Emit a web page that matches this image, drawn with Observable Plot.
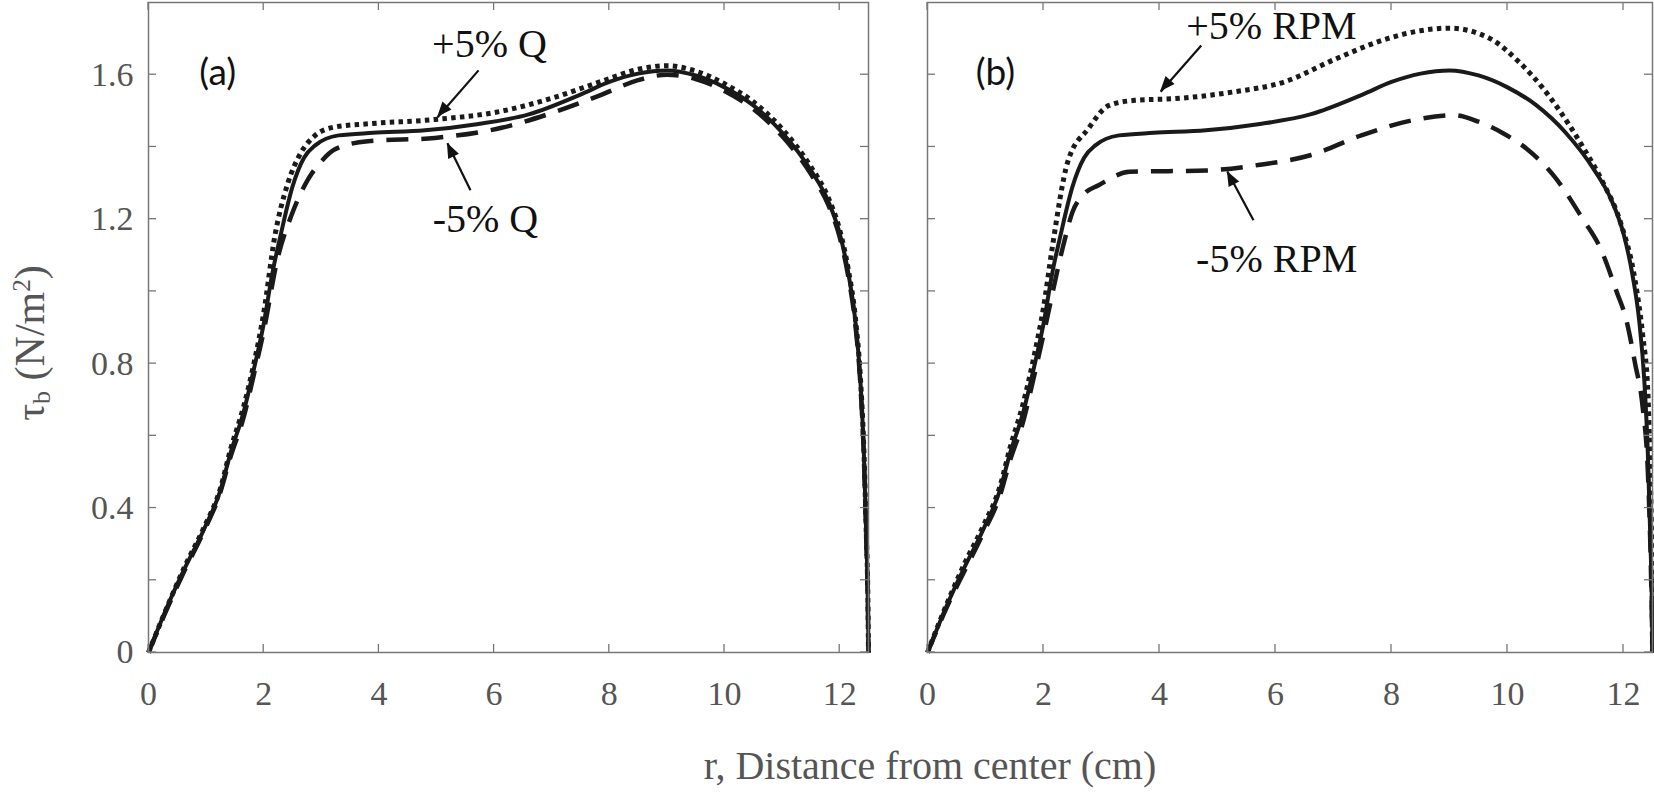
<!DOCTYPE html>
<html>
<head>
<meta charset="utf-8">
<script src="https://cdn.jsdelivr.net/npm/d3@7"></script>
<script src="https://cdn.jsdelivr.net/npm/@observablehq/plot@0.6"></script>
<style>
  body { margin: 0; background: #fff; }
  #wrap { position: relative; width: 1654px; height: 795px; overflow: hidden; font-family: "Liberation Serif", serif; }
  #wrap svg { position: absolute; top: 0; }
  .ylab { position: absolute; left: 32px; top: 343px; transform: translate(-50%, -50%) rotate(-90deg); font-size: 42px; color: #555; white-space: nowrap; line-height: 42px; }
  .xlab { position: absolute; left: 930px; top: 746px; transform: translateX(-50%); font-size: 40px; line-height: 40px; color: #555; white-space: nowrap; }
</style>
</head>
<body>
<div id="wrap">
  <div class="ylab">τ<sub style="font-size:0.62em;vertical-align:-0.25em">b</sub> (N/m<sup style="font-size:0.6em;vertical-align:0.55em">2</sup>)</div>
  <div class="xlab">r, Distance from center (cm)</div>
</div>
<script>
// ---- Data ----
const xTickValues = [0, 2, 4, 6, 8, 10, 12];
const yTickValues = [0, 0.2, 0.4, 0.6, 0.8, 1.0, 1.2, 1.4, 1.6];
const yLabelValues = [0, 0.4, 0.8, 1.2, 1.6];

// Baseline (solid) curve, same in both panels
const baseR   = [0,0.36,0.62,0.96,1.25,1.42,1.65,1.83,2.0,2.15,2.3,2.5,2.7,2.9,3.3,3.9,4.8,5.7,6.6,7.5,8.0,8.5,9.0,9.5,10.0,10.5,11.0,11.5,11.8,12.0,12.15,12.27,12.36,12.42,12.46,12.49,12.5];
const baseTau = [0,0.14,0.23,0.34,0.45,0.55,0.665,0.785,0.91,1.05,1.16,1.29,1.37,1.405,1.432,1.439,1.446,1.463,1.49,1.545,1.58,1.603,1.612,1.598,1.565,1.515,1.44,1.335,1.25,1.16,1.05,0.92,0.75,0.55,0.33,0.13,0];

// Panel (a): +5% Q (dotted)
const qPlusR   = [0,0.36,0.62,0.96,1.25,1.42,1.65,1.83,2.0,2.19,2.42,2.65,2.88,3.23,3.81,4.97,6.13,7.0,7.87,8.5,9.0,9.5,10.0,10.5,11.0,11.5,11.8,12.0,12.15,12.27,12.36,12.42,12.46,12.49,12.5];
const qPlusTau = [0,0.14,0.235,0.345,0.455,0.56,0.68,0.80,0.94,1.15,1.30,1.385,1.43,1.455,1.464,1.476,1.499,1.535,1.582,1.615,1.625,1.61,1.575,1.525,1.45,1.345,1.26,1.17,1.06,0.93,0.76,0.56,0.34,0.14,0];

// Panel (a): -5% Q (dashed)
const qMinusR   = [0,0.36,0.62,0.96,1.25,1.42,1.65,1.83,2.0,2.24,2.48,2.77,3.0,3.23,3.81,4.97,6.13,7.0,7.87,8.5,9.0,9.5,10.0,10.5,11.0,11.5,11.8,12.0,12.15,12.27,12.36,12.42,12.46,12.49,12.5];
const qMinusTau = [0,0.135,0.225,0.335,0.445,0.54,0.65,0.77,0.89,1.09,1.21,1.31,1.36,1.393,1.416,1.425,1.453,1.494,1.545,1.585,1.60,1.588,1.555,1.505,1.43,1.325,1.24,1.15,1.04,0.91,0.74,0.54,0.32,0.12,0];

// Panel (b): +5% RPM (dotted)
const rpmPlusR   = [0,0.36,0.62,0.96,1.25,1.42,1.65,1.83,2.0,2.15,2.42,2.77,3.13,3.57,4.28,5.26,6.15,7.04,7.93,8.5,9.0,9.7,10.2,10.6,10.9,11.3,11.65,11.95,12.2,12.33,12.42,12.46,12.49,12.5];
const rpmPlusTau = [0,0.145,0.24,0.35,0.46,0.565,0.69,0.815,0.955,1.12,1.36,1.45,1.515,1.529,1.534,1.552,1.58,1.644,1.70,1.722,1.729,1.70,1.635,1.565,1.50,1.40,1.30,1.19,1.03,0.88,0.72,0.5,0.22,0];

// Panel (b): -5% RPM (dashed)
const rpmMinusR   = [0,0.36,0.62,0.96,1.25,1.42,1.65,1.83,2.0,2.33,2.5,2.7,2.95,3.48,4.82,5.7,6.6,7.48,8.37,9.08,9.5,9.9,10.33,10.8,11.3,11.6,11.88,12.05,12.2,12.33,12.42,12.47,12.5];
const rpmMinusTau = [0,0.135,0.22,0.33,0.435,0.53,0.64,0.76,0.88,1.12,1.22,1.27,1.294,1.331,1.335,1.35,1.377,1.432,1.474,1.488,1.47,1.44,1.395,1.32,1.20,1.12,1.0,0.92,0.80,0.68,0.5,0.25,0];

// Annotations (data coordinates)
const panelLabels = [{panel: "a", x: 1.2, y: 1.605, text: "(a)"}, {panel: "b", x: 1.17, y: 1.605, text: "(b)"}];
const noteTexts = [
  {panel: "a", x: 5.92, y: 1.685, text: "+5% Q"},
  {panel: "a", x: 5.85, y: 1.20, text: "-5% Q"},
  {panel: "b", x: 5.93, y: 1.735, text: "+5% RPM"},
  {panel: "b", x: 6.02, y: 1.09, text: "-5% RPM"}
];
const noteArrows = [
  {panel: "a", x1: 5.73, y1: 1.612, x2: 5.02, y2: 1.482},
  {panel: "a", x1: 5.59, y1: 1.28, x2: 5.19, y2: 1.41},
  {panel: "b", x1: 4.72, y1: 1.681, x2: 4.02, y2: 1.553},
  {panel: "b", x1: 5.62, y1: 1.197, x2: 5.17, y2: 1.332}
];

// ---- Build ----
const rows = (r, t) => r.map((v, i) => ({r: v, tau: t[i]}));
const TICK = 8;

const inwardTicks = (index, scales, values, dims) => {
  const {width, height, marginLeft, marginRight, marginTop, marginBottom} = dims;
  const x0 = marginLeft, x1 = width - marginRight, y0 = marginTop, y1 = height - marginBottom;
  const g = d3.create("svg:g").attr("stroke", "#777").attr("stroke-width", 1.3);
  for (const v of xTickValues) {
    const px = scales.x(v);
    g.append("line").attr("x1", px).attr("x2", px).attr("y1", y1).attr("y2", y1 - TICK);
    g.append("line").attr("x1", px).attr("x2", px).attr("y1", y0).attr("y2", y0 + TICK);
  }
  for (const v of yTickValues) {
    const py = scales.y(v);
    g.append("line").attr("y1", py).attr("y2", py).attr("x1", x0).attr("x2", x0 + TICK);
    g.append("line").attr("y1", py).attr("y2", py).attr("x1", x1).attr("x2", x1 - TICK);
  }
  return g.node();
};

// filled arrowheads placed with the plot's scales
const arrowHeads = (arrows) => (index, scales) => {
  const g = d3.create("svg:g").attr("fill", "#111");
  const L = 15, W = 6;
  for (const a of arrows) {
    const sx = scales.x(a.x1), sy = scales.y(a.y1), ex = scales.x(a.x2), ey = scales.y(a.y2);
    const dx = ex - sx, dy = ey - sy, len = Math.hypot(dx, dy), ux = dx / len, uy = dy / len;
    const bx = ex - ux * L, by = ey - uy * L;
    g.append("path").attr("d", `M${ex},${ey}L${bx - uy * W},${by + ux * W}L${bx + uy * W},${by - ux * W}Z`);
  }
  return g.node();
};

function panel({panelId, solid, dotted, dashed, showY, width, marginLeft, left}) {
  const lineStyle = {x: "r", y: "tau", stroke: "#1a1a1a", curve: "monotone-x", strokeLinecap: "butt", strokeLinejoin: "round"};
  const arrows = noteArrows.filter(d => d.panel === panelId);
  const svg = Plot.plot({
    width, height: 712,
    marginLeft, marginRight: 2, marginTop: 2, marginBottom: 60,
    style: {color: "#555", fontFamily: "Liberation Serif", fontSize: "34px", background: "transparent", overflow: "visible"},
    x: {domain: [0, 12.5]},
    y: showY ? {domain: [0, 1.8]} : {domain: [0, 1.8], axis: null},
    marks: [
      Plot.axisX({ticks: xTickValues, tickSize: 0, tickPadding: 28, label: null, fontSize: 34, fontFamily: "Liberation Serif", tickFormat: d => String(d)}),
      ...(showY ? [Plot.axisY({ticks: yLabelValues, tickSize: 0, tickPadding: 15, label: null, fontSize: 34, fontFamily: "Liberation Serif", tickFormat: d => String(d)})] : []),
      Plot.line(solid, {...lineStyle, strokeWidth: 4}),
      Plot.line(dashed, {...lineStyle, strokeWidth: 4.5, strokeDasharray: "22,13"}),
      Plot.line(dotted, {...lineStyle, strokeWidth: 5, strokeDasharray: "4.5,4.3"}),
      Plot.frame({stroke: "#777", strokeWidth: 1.5}),
      inwardTicks,
      Plot.text(panelLabels.filter(d => d.panel === panelId), {x: "x", y: "y", text: "text", fontFamily: "Lato", fontSize: 37, fill: "#111"}),
      Plot.text(noteTexts.filter(d => d.panel === panelId), {x: "x", y: "y", text: "text", fontFamily: "Liberation Serif", fontSize: 40, fill: "#111"}),
      Plot.link(arrows, {x1: "x1", y1: "y1", x2: "x2", y2: "y2", stroke: "#111", strokeWidth: 2.2}),
      arrowHeads(arrows)
    ]
  });
  svg.style.left = left + "px";
  svg.querySelectorAll('g[aria-label$="tick label"] text').forEach(t => { t.style.fontFamily = '"Liberation Serif", serif'; });
  return svg;
}

const wrap = document.getElementById("wrap");
wrap.appendChild(panel({
  panelId: "a",
  solid: rows(baseR, baseTau), dotted: rows(qPlusR, qPlusTau), dashed: rows(qMinusR, qMinusTau),
  showY: true, width: 870, marginLeft: 148, left: 0
}));
wrap.appendChild(panel({
  panelId: "b",
  solid: rows(baseR, baseTau), dotted: rows(rpmPlusR, rpmPlusTau), dashed: rows(rpmMinusR, rpmMinusTau),
  showY: false, width: 774, marginLeft: 47, left: 880
}));
</script>
</body>
</html>
